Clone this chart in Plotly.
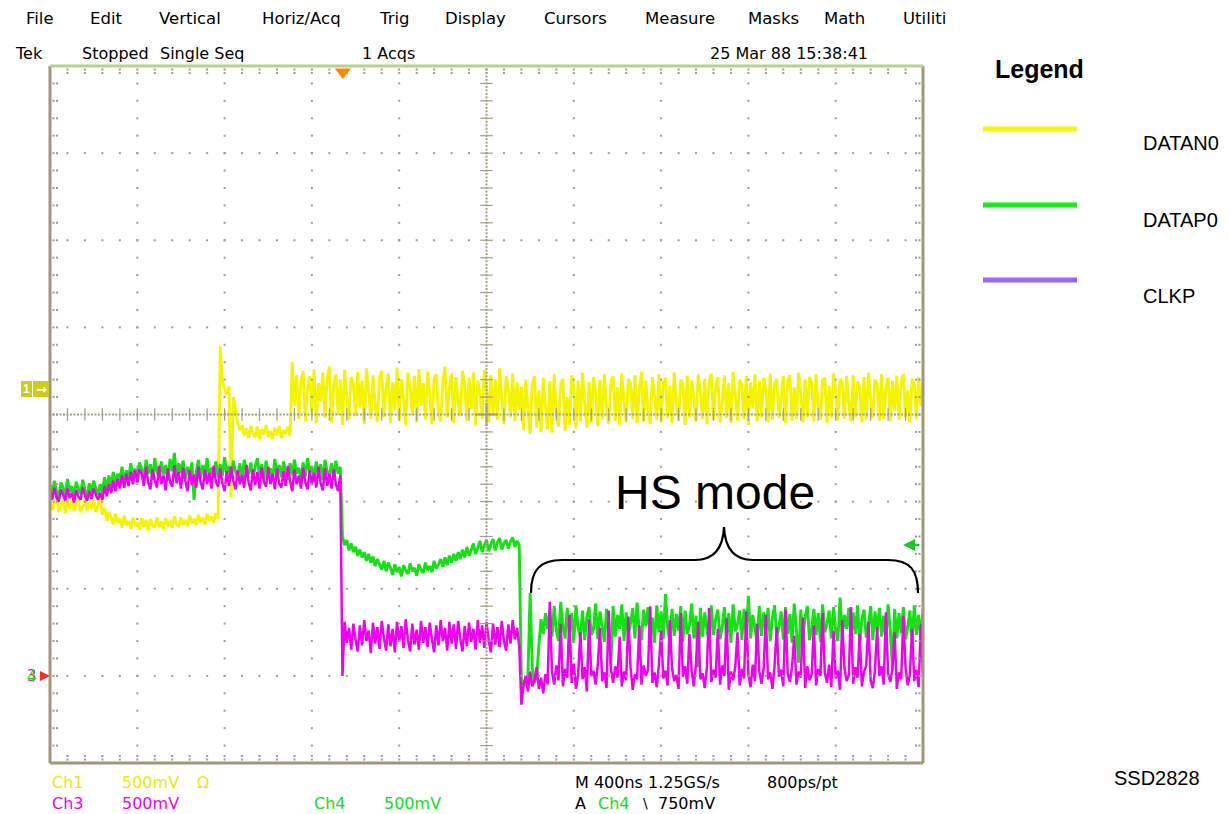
import numpy as np
import plotly.graph_objects as go

# ---------------- data (screen divisions, one sample every 0.025 div = 10 ns) ----------------
US_PER_DIV = 0.4
TOTAL_US = 4.0
TRIGGER_TIME_US = 1.342

datan0_div = [
    -0.97, -1.10, -1.02, -0.95, -1.12, -1.05, -0.98, -1.13, -1.00, -1.08,
    -0.96, -1.11, -1.03, -0.99, -1.12, -1.06, -0.97, -1.10, -1.01, -1.09,
    -0.98, -1.12, -1.04,
    -0.92, -1.15, -1.08, -1.22, -1.12, -1.18, -1.26, -1.14, -1.24, -1.19,
    -1.30, -1.16, -1.27, -1.22, -1.31, -1.18, -1.28, -1.24, -1.32, -1.19,
    -1.29, -1.21, -1.33, -1.20, -1.27, -1.30, -1.18, -1.29, -1.23, -1.31,
    -1.19, -1.28, -1.22, -1.30, -1.17, -1.26, -1.29, -1.18, -1.27, -1.21,
    -1.28, -1.16, -1.25, -1.20, -1.27, -1.15, -1.24, -1.19, -1.26, -1.14,
    -1.22, -1.17, -1.24, -1.13, -1.20,
    0.78, 0.38, 0.30, 0.22, 0.32, -0.95, 0.20, 0.06, -0.10, -0.18,
    -0.12, -0.24, -0.16, -0.27, -0.13, -0.21, -0.26, -0.14, -0.28, -0.17,
    -0.23, -0.12, -0.26, -0.19, -0.28, -0.15, -0.24, -0.13, -0.27, -0.18,
    -0.22, -0.14, -0.25,
    0.60, 0.10, 0.45, -0.05, 0.38, 0.50, -0.08, 0.30, 0.44, 0.02,
    0.52, -0.10, 0.36, 0.15, 0.48, -0.04, 0.41, 0.55, -0.09, 0.33,
    0.46, 0.00, 0.40, -0.12, 0.51, 0.20, -0.06, 0.43, 0.35, -0.02,
    0.49, 0.08, 0.39, -0.11, 0.53, 0.25, -0.05, 0.45, 0.12, -0.08,
    0.42, 0.50, -0.03, 0.31, 0.47, -0.10, 0.37, 0.05, 0.54, -0.07,
    0.40, 0.18, -0.12, 0.48, 0.34, -0.01, 0.44, -0.09, 0.52, 0.10,
    0.36, -0.06, 0.49, 0.22, -0.11, 0.41, 0.46, 0.03, -0.08, 0.38,
    0.55, -0.04, 0.30, 0.47, -0.10, 0.43, 0.14, -0.02, 0.50, 0.35,
    -0.07, 0.42, 0.06, 0.48, -0.12, 0.39, 0.24, -0.05, 0.51, 0.33,
    -0.09, 0.45, 0.01, 0.40, -0.06, 0.53, 0.17, -0.11, 0.44, 0.29,
    -0.03, 0.47, -0.08, 0.37, 0.05,
    0.32, -0.18, 0.40, 0.05, -0.22, 0.36, 0.44, -0.15, 0.28, -0.20,
    0.42, 0.10, -0.17, 0.38, -0.21, 0.46, 0.02, -0.14, 0.35, 0.41,
    -0.19, 0.20, -0.12, 0.45, 0.30, -0.16, 0.39, -0.08, 0.48, 0.12,
    -0.15, 0.37, -0.10, 0.43, 0.25, -0.13, 0.40, -0.06, 0.46, 0.08,
    -0.11, 0.38, 0.44, -0.07, 0.31, -0.12, 0.47, 0.15, -0.09, 0.41,
    0.36, -0.05, 0.45, -0.10, 0.28, 0.49, -0.08, 0.39, 0.04, -0.11,
    0.43, 0.22, -0.06, 0.46, -0.09, 0.37, 0.42, -0.04, 0.33, -0.10,
    0.48, 0.11, -0.07, 0.40, 0.35, -0.12, 0.44, -0.03, 0.39, 0.18,
    -0.08, 0.46, 0.27, -0.05, 0.41, -0.11, 0.38, 0.47, -0.06, 0.32,
    0.43, -0.09, 0.13, 0.45, -0.04, 0.36, -0.10, 0.49, 0.21, -0.07,
    0.40, 0.34, -0.05, 0.44, -0.12, 0.37, 0.07, 0.46, -0.08, 0.39,
    -0.03, 0.42, 0.29, -0.09, 0.47, -0.06, 0.35, 0.41, -0.04, 0.16,
    0.44, -0.10, 0.38, 0.45, -0.07, 0.31, -0.05, 0.48, 0.23, -0.09,
    0.40, -0.03, 0.43, 0.36, -0.08, 0.46, 0.09, -0.06, 0.39, 0.42,
    -0.10, 0.33, -0.04, 0.47, 0.26, -0.07, 0.41, 0.37, -0.05, 0.44,
    0.12, -0.08, 0.45, -0.03, 0.38, 0.30, -0.09, 0.43, -0.06, 0.48,
    0.19, -0.04, 0.40, 0.35, -0.07, 0.46, -0.05, 0.32, 0.42, -0.08,
    0.39, 0.04, 0.44, -0.06, 0.37, 0.47, -0.03, 0.28, -0.09, 0.41,
    0.36, -0.05, 0.43, 0.10, 0.38,
]

datap0_div = [
    -0.80, -0.92, -0.76, -0.88, -0.95, -0.78, -0.84, -0.93, -0.74, -0.89,
    -0.82, -0.96, -0.77, -0.86, -0.91, -0.75, -0.87, -0.94, -0.79, -0.90,
    -0.76, -0.85, -0.92,
    -0.80, -0.90, -0.72, -0.86, -0.70, -0.82, -0.66, -0.80, -0.68, -0.76,
    -0.60, -0.78, -0.64, -0.74, -0.56, -0.72, -0.62, -0.70, -0.55,
    -0.62, -0.74, -0.52, -0.68, -0.57, -0.75, -0.50, -0.66, -0.71, -0.54,
    -0.69, -0.58, -0.76, -0.51, -0.65, -0.44, -0.72, -0.56, -0.67, -0.53,
    -0.74, -0.60, -0.70, -0.55, -0.98, -0.66, -0.52, -0.73, -0.58, -0.69,
    -0.50, -0.75, -0.61, -0.67, -0.54, -0.72, -0.57, -0.70, -0.49, -0.68,
    -0.59, -0.74, -0.53, -0.66, -0.71, -0.56, -0.75, -0.52, -0.64, -0.69,
    -0.55, -0.73, -0.60, -0.50, -0.70, -0.57, -0.76, -0.53, -0.67, -0.62,
    -0.74, -0.51, -0.69, -0.58, -0.72, -0.54, -0.66, -0.75, -0.56, -0.70,
    -0.52, -0.68, -0.61, -0.74, -0.55, -0.71, -0.50, -0.67, -0.59, -0.73,
    -0.54, -0.69, -0.57, -0.75, -0.52, -0.66, -0.70, -0.56, -0.73, -0.53,
    -0.68, -0.60,
    -1.40, -1.50, -1.44, -1.56, -1.48, -1.58, -1.52, -1.62, -1.55, -1.64,
    -1.58, -1.68, -1.60, -1.70, -1.63, -1.74, -1.66, -1.72, -1.78, -1.68,
    -1.80, -1.70, -1.76, -1.84, -1.72, -1.81, -1.75, -1.86, -1.73, -1.79,
    -1.83, -1.71, -1.80, -1.76, -1.85, -1.72, -1.78, -1.82, -1.70, -1.79,
    -1.74, -1.81, -1.68, -1.77, -1.72, -1.66, -1.75, -1.64, -1.73, -1.62,
    -1.70, -1.60, -1.68, -1.58, -1.66, -1.55, -1.64, -1.52, -1.62, -1.56,
    -1.48, -1.60, -1.53, -1.45, -1.58, -1.50, -1.44, -1.57, -1.49, -1.43,
    -1.56, -1.47, -1.42, -1.55, -1.48, -1.44, -1.54, -1.46, -1.41, -1.52,
    -1.45, -1.50,
    -3.10, -3.05, -3.12, -2.98, -2.05, -2.90, -3.08, -3.00, -2.65, -2.35,
    -2.52, -2.28, -2.46,
    -2.24, -2.55, -2.20, -2.48, -2.60, -2.15, -2.42, -2.57, -2.22, -2.50,
    -2.28, -2.62, -2.19, -2.45, -2.56, -2.25, -2.59, -2.32, -2.21, -2.53,
    -2.47, -2.17, -2.58, -2.26, -2.44, -2.61, -2.23, -2.51, -2.88, -2.20,
    -2.55, -2.30, -2.46, -2.18, -2.60, -2.27, -2.52, -2.40, -2.22, -2.57,
    -2.16, -2.49, -2.59, -2.24, -2.43, -2.21, -2.56, -2.33, -2.62, -2.19,
    -2.50, -2.26, -2.58, -2.06, -2.45, -2.60, -2.23, -2.54, -2.29, -2.48,
    -2.20, -2.61, -2.25, -2.52, -2.42, -2.17, -2.57, -2.31, -2.90, -2.22,
    -2.55, -2.27, -2.47, -2.60, -2.19, -2.53, -2.35, -2.24, -2.58, -2.44,
    -2.21, -2.56, -2.28, -2.62, -2.18, -2.49, -2.41, -2.25, -2.59, -2.23,
    -2.51, -2.08, -2.57, -2.30, -2.46, -2.61, -2.20, -2.54, -2.27, -2.48,
    -2.22, -2.60, -2.34, -2.19, -2.55, -2.43, -2.26, -2.58, -2.21, -2.52,
    -2.29, -2.62, -2.17, -2.47, -2.85, -2.24, -2.56, -2.32, -2.20, -2.59,
    -2.45, -2.23, -2.53, -2.28, -2.61, -2.18, -2.50, -2.40, -2.25, -2.57,
    -2.21, -2.48, -2.60, -2.10, -2.54, -2.30, -2.46, -2.22, -2.58, -2.27,
    -2.52, -2.19, -2.62, -2.35, -2.24, -2.56, -2.42, -2.20, -2.59, -2.26,
    -2.49, -2.22, -2.55, -2.31, -2.60, -2.18, -2.47, -2.92, -2.23, -2.57,
    -2.28, -2.51, -2.21, -2.58, -2.44, -2.25, -2.60, -2.19, -2.53, -2.30,
    -2.56, -2.24,
]

clkp_div = [
    -0.88, -0.98, -0.84, -0.95, -1.00, -0.86, -0.92, -0.99, -0.85, -0.96,
    -0.90, -1.01, -0.87, -0.94, -0.98, -0.84, -0.93, -0.99, -0.88, -0.97,
    -0.85, -0.92, -0.98,
    -0.90, -0.98, -0.82, -0.94, -0.80, -0.90, -0.76, -0.88, -0.74, -0.85,
    -0.70, -0.84, -0.68, -0.82, -0.66, -0.80, -0.64, -0.78, -0.63,
    -0.68, -0.82, -0.60, -0.78, -0.86, -0.63, -0.75, -0.84, -0.59, -0.80,
    -0.70, -0.87, -0.62, -0.77, -0.83, -0.58, -0.79, -0.66, -0.85, -0.61,
    -0.76, -0.88, -0.64, -0.81, -0.69, -0.84, -0.60, -0.78, -0.86, -0.63,
    -0.80, -0.67, -0.85, -0.59, -0.77, -0.83, -0.62, -0.79, -0.88, -0.65,
    -0.82, -0.60, -0.76, -0.86, -0.64, -0.80, -0.70, -0.84, -0.58, -0.78,
    -0.87, -0.63, -0.81, -0.66, -0.85, -0.61, -0.77, -0.83, -0.60, -0.80,
    -0.68, -0.86, -0.62, -0.79, -0.84, -0.65, -0.82, -0.59, -0.76, -0.88,
    -0.63, -0.80, -0.70, -0.85, -0.61, -0.78, -0.86, -0.64, -0.81, -0.67,
    -0.84, -0.60, -0.79, -0.87, -0.62, -0.82, -0.68, -0.85, -0.63, -0.80,
    -0.88, -0.70,
    -3.00,
    -2.38, -2.62, -2.45, -2.70, -2.40, -2.58, -2.72, -2.42, -2.65, -2.36,
    -2.60, -2.48, -2.74, -2.39, -2.63, -2.44, -2.69, -2.37, -2.57, -2.71,
    -2.41, -2.66, -2.46, -2.73, -2.38, -2.61, -2.43, -2.68, -2.35, -2.59,
    -2.72, -2.40, -2.64, -2.47, -2.70, -2.37, -2.62, -2.44, -2.67, -2.39,
    -2.58, -2.73, -2.42, -2.65, -2.36, -2.60, -2.45, -2.71, -2.38, -2.63,
    -2.41, -2.69, -2.37, -2.57, -2.72, -2.43, -2.66, -2.39, -2.61, -2.46,
    -2.70, -2.36, -2.62, -2.42, -2.68, -2.38, -2.59, -2.73, -2.40, -2.64,
    -2.44, -2.67, -2.37, -2.60, -2.71, -2.41, -2.63, -2.36, -2.58, -2.45,
    -2.66,
    -3.33, -3.10, -3.00, -3.18, -2.95, -3.12, -3.05, -2.90, -3.15, -3.02,
    -3.20, -2.98, -3.10,
    -2.15, -2.95, -3.10, -2.88, -3.05, -2.40, -3.12, -2.92, -3.02, -2.30,
    -3.08, -2.86, -3.15, -2.98, -2.50, -3.04, -2.90, -3.18, -2.35, -3.00,
    -2.94, -3.10, -2.87, -2.45, -3.06, -2.96, -3.14, -2.25, -2.92, -3.08,
    -2.89, -3.02, -2.55, -3.12, -2.95, -3.05, -2.32, -2.90, -3.16, -2.98,
    -3.04, -2.42, -3.10, -2.88, -3.00, -2.93, -2.20, -3.08, -2.96, -3.13,
    -2.87, -2.48, -3.03, -2.94, -3.11, -2.36, -2.91, -3.06, -2.99, -3.15,
    -2.28, -3.01, -2.89, -3.09, -2.52, -2.95, -3.12, -2.86, -2.38, -3.04,
    -2.97, -3.14, -2.90, -2.22, -3.07, -2.93, -3.02, -2.46, -3.10, -2.88,
    -3.00, -2.34, -3.16, -2.95, -3.05, -2.89, -2.50, -3.11, -2.92, -3.03,
    -2.26, -2.98, -3.13, -2.87, -3.06, -2.40, -2.94, -3.09, -2.91, -2.30,
    -3.04, -2.96, -3.15, -2.88, -2.44, -3.01, -2.93, -3.12, -2.24, -2.97,
    -3.07, -2.90, -2.54, -3.10, -2.95, -3.02, -2.33, -3.14, -2.89, -3.05,
    -2.98, -2.42, -3.11, -2.92, -3.00, -2.28, -2.96, -3.08, -2.87, -3.13,
    -2.48, -3.03, -2.94, -3.16, -2.36, -2.91, -3.06, -2.99, -2.21, -3.09,
    -2.90, -3.02, -2.52, -3.12, -2.95, -2.88, -2.38, -3.05, -3.14, -2.93,
    -2.44, -3.00, -2.89, -3.10, -2.27, -2.97, -3.07, -2.92, -2.50, -3.15,
    -2.96, -3.04, -2.31, -2.90, -3.11, -2.98, -2.46, -3.06, -2.93, -3.13,
    -2.40, -3.02,
]

series_names = ["DATAN0", "DATAP0", "CLKP"]
series_values = [datan0_div, datap0_div, clkp_div]
series_colors = ["#f4f400", "#12e212", "#f000f0"]
series_widths = [2.9, 2.9, 2.5]
legend_colors = ["#f7f700", "#14ee14", "#9966ff"]

menu_labels = ["File", "Edit", "Vertical", "Horiz/Acq", "Trig", "Display",
               "Cursors", "Measure", "Masks", "Math", "Utiliti"]

# ---------------- geometry (page pixels; the page body has an 8px margin) ----------------
OFF = 8
PAGE_W, PAGE_H = 1230, 814
W, H = PAGE_W - OFF, PAGE_H - OFF
L, R, T, B = 50, 923, 66, 763
XDIV, YDIV = 10, 8
FONT = "Liberation Sans, Arial, sans-serif"
SCOPE_FONT = "DejaVu Sans, Verdana, sans-serif"
GRID = "#a39b86"


def to_paper(px, py):
    return (px - L) / (R - L), (B - py) / (B - T)


def to_data(px, py):
    return (px - L) / (R - L) * XDIV * US_PER_DIV, YDIV / 2 - (py - T) / (B - T) * YDIV


fig = go.Figure()

for name, vals, col, lw in zip(series_names, series_values, series_colors, series_widths):
    t = np.linspace(0, TOTAL_US, len(vals))
    fig.add_trace(go.Scatter(x=t, y=vals, mode="lines", name=name,
                             line=dict(color=col, width=lw, simplify=False),
                             hoverinfo="skip", showlegend=False))

# ---------------- graticule ----------------
gx, gy = [], []
ys_minor = np.round(np.arange(-3.8, 3.81, 0.2), 3)
xs_minor = np.round(np.arange(0.2, 9.81, 0.2), 3)
for k in range(1, 10):
    if k == 5:
        continue
    gx += [k * US_PER_DIV] * len(ys_minor)
    gy += list(ys_minor)
for j in range(-3, 4):
    if j == 0:
        continue
    gx += list(xs_minor * US_PER_DIV)
    gy += [j] * len(xs_minor)
ys_dense = np.round(np.arange(-4, 4.001, 0.04), 3)
xs_dense = np.round(np.arange(0, 10.001, 0.04), 3)
gx += [5 * US_PER_DIV] * len(ys_dense)
gy += list(ys_dense)
gx += list(xs_dense * US_PER_DIV)
gy += [0] * len(xs_dense)
for off in (0.04, 0.08):
    gx += list(xs_minor * US_PER_DIV); gy += [4 - off] * len(xs_minor)
    gx += list(xs_minor * US_PER_DIV); gy += [-4 + off] * len(xs_minor)
    gx += [off * US_PER_DIV] * len(ys_minor); gy += list(ys_minor)
    gx += [(10 - off) * US_PER_DIV] * len(ys_minor); gy += list(ys_minor)

fig.add_trace(go.Scatter(x=gx, y=gy, mode="markers", hoverinfo="skip", showlegend=False,
                         marker=dict(symbol="square", size=2, color=GRID, line=dict(width=0)),
                         cliponaxis=False))
fig.add_trace(go.Scatter(x=[5 * US_PER_DIV] * len(ys_minor), y=ys_minor, mode="markers",
                         hoverinfo="skip", showlegend=False,
                         marker=dict(symbol="line-ew", size=9, line=dict(width=1.2, color=GRID))))
fig.add_trace(go.Scatter(x=xs_minor * US_PER_DIV, y=[0] * len(xs_minor), mode="markers",
                         hoverinfo="skip", showlegend=False,
                         marker=dict(symbol="line-ns", size=9, line=dict(width=1.2, color=GRID))))
fig.add_trace(go.Scatter(x=[5 * US_PER_DIV], y=[0], mode="markers", hoverinfo="skip", showlegend=False,
                         marker=dict(symbol="cross-thin", size=16, line=dict(width=2, color=GRID))))

# trigger position marker
_, ty = to_data(343, 72)
fig.add_trace(go.Scatter(x=[TRIGGER_TIME_US], y=[ty], mode="markers", hoverinfo="skip",
                         showlegend=False, cliponaxis=False,
                         marker=dict(symbol="triangle-down", size=14, color="#ff8a00",
                                     line=dict(width=0))))

shapes = []
for x0, x1, y0, y1, col in ((0, 0, 0, 1, "#a3967a"), (1, 1, 0, 1, "#a3967a"),
                            (0, 1, 0, 0, "#a3967a"), (0, 1, 1, 1, "#b8d18e")):
    shapes.append(dict(type="line", xref="paper", yref="paper", x0=x0, x1=x1, y0=y0, y1=y1,
                       line=dict(color=col, width=3), layer="above"))

brace = [("M", [(531, 593)]),
         ("C", [(531, 570), (540, 560), (562, 560)]),
         ("L", [(695, 560)]),
         ("C", [(712, 560), (723, 550), (724, 527)]),
         ("C", [(725, 550), (736, 560), (753, 560)]),
         ("L", [(888, 560)]),
         ("C", [(910, 560), (918, 570), (918, 593)])]
path = ""
for cmd, pts in brace:
    path += cmd + " " + " ".join("%.5f,%.5f" % to_data(*p) for p in pts) + " "
shapes.append(dict(type="path", xref="x", yref="y", path=path.strip(),
                   line=dict(color="black", width=2.2), layer="above"))

for x0, x1 in ((21, 32), (33, 49)):
    a0, b0 = to_paper(x0, 397)
    a1, b1 = to_paper(x1, 381)
    shapes.append(dict(type="rect", xref="paper", yref="paper", x0=a0, x1=a1, y0=b0, y1=b1,
                       fillcolor="#cccc1a", line=dict(width=0), layer="above"))

for col, py in zip(legend_colors, (129, 205, 280)):
    a0, b = to_paper(983, py)
    a1, _ = to_paper(1077, py)
    shapes.append(dict(type="line", xref="paper", yref="paper", x0=a0, x1=a1, y0=b, y1=b,
                       line=dict(color=col, width=5)))

annotations = []


def txt(s, px, py, size, color="black", family=FONT, anchor="left"):
    xp, yp = to_paper(px, py)
    annotations.append(dict(text=s, x=xp, y=yp, xref="paper", yref="paper", xanchor=anchor,
                            yanchor="middle", showarrow=False,
                            font=dict(size=size, color=color, family=family)))


menu_x = [24, 88, 157, 260, 377, 443, 542, 643, 746, 822, 901]
for lab, mx in zip(menu_labels, menu_x):
    txt(lab, mx, 18, 16.5, family=SCOPE_FONT)

txt("Tek", 13, 54, 16, family=SCOPE_FONT)
txt("Stopped", 80, 54, 16, family=SCOPE_FONT)
txt("Single Seq", 158, 54, 16, family=SCOPE_FONT)
txt("1 Acqs", 360, 54, 16, family=SCOPE_FONT)
txt("25 Mar 88 15:38:41", 708, 54, 16, family=SCOPE_FONT)

YEL, MAG, GRN = "#eaea00", "#f000f0", "#10e010"
txt("Ch1", 50, 782, 16, YEL, SCOPE_FONT)
txt("500mV", 120, 782, 16, YEL, SCOPE_FONT)
txt("Ω", 195, 782, 16, YEL, SCOPE_FONT)
txt("Ch3", 50, 803, 16, MAG, SCOPE_FONT)
txt("500mV", 120, 803, 16, MAG, SCOPE_FONT)
txt("Ch4", 312, 803, 16, GRN, SCOPE_FONT)
txt("500mV", 382, 803, 16, GRN, SCOPE_FONT)
txt("M 400ns 1.25GS/s", 573, 782, 16, family=SCOPE_FONT)
txt("800ps/pt", 765, 782, 16, family=SCOPE_FONT)
txt("A", 573, 803, 16, family=SCOPE_FONT)
txt("Ch4", 596, 803, 16, GRN, SCOPE_FONT)
txt("\\", 641, 803, 14, family=SCOPE_FONT)
txt("750mV", 656, 803, 16, family=SCOPE_FONT)

txt("HS mode", 715, 492, 48, anchor="center")

txt("<b>Legend</b>", 993, 69, 25)
txt("DATAN0", 1141, 143, 20)
txt("DATAP0", 1141, 220, 20)
txt("CLKP", 1141, 296, 20)
txt("SSD2828", 1112, 778, 20)

txt("<b>1</b>", 26.5, 389, 12, "white", anchor="center")
txt("<b>→</b>", 41, 389, 13, "white", family="DejaVu Sans", anchor="center")
txt("3", 32, 676, 15, MAG, SCOPE_FONT, anchor="center")
txt("4", 32, 677, 15, GRN, SCOPE_FONT, anchor="center")

hx, hy = to_paper(50, 676)
annotations.append(dict(x=hx, y=hy, xref="paper", yref="paper", text="", showarrow=True,
                        ax=-11, ay=0, arrowhead=2, arrowsize=1, arrowwidth=2,
                        arrowcolor="#ff2a2a"))
hx, hy = to_paper(903, 545)
annotations.append(dict(x=hx, y=hy, xref="paper", yref="paper", text="", showarrow=True,
                        ax=18, ay=0, arrowhead=2, arrowsize=1, arrowwidth=2.4,
                        arrowcolor="#1ec81e"))

fig.update_layout(
    width=W, height=H,
    margin=dict(l=L - OFF, r=PAGE_W - R, t=T - OFF, b=PAGE_H - B),
    paper_bgcolor="white", plot_bgcolor="white",
    showlegend=False,
    xaxis=dict(range=[0, XDIV * US_PER_DIV], visible=False, fixedrange=True),
    yaxis=dict(range=[-YDIV / 2, YDIV / 2], visible=False, fixedrange=True),
    shapes=shapes, annotations=annotations,
)

fig.write_html("out.html", config={"displayModeBar": False})
